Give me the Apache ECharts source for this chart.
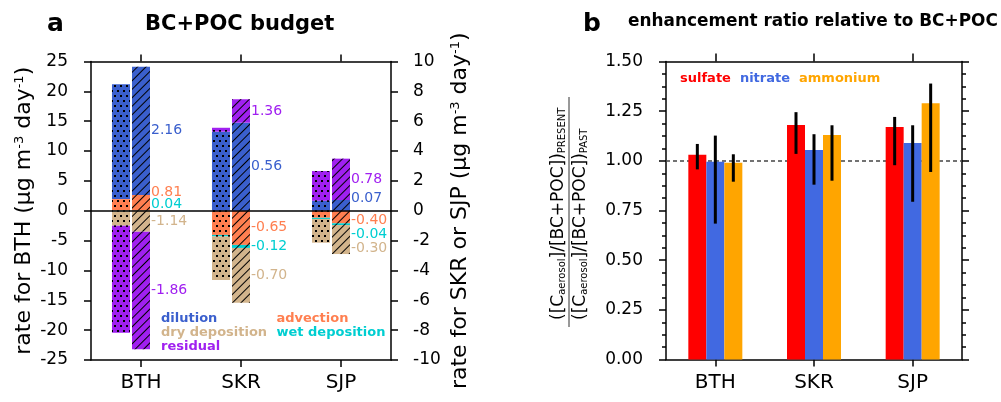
<!DOCTYPE html>
<html><head><meta charset="utf-8">
<script src="https://cdn.jsdelivr.net/npm/echarts@6/dist/echarts.min.js"></script>
<style>html,body{margin:0;padding:0;background:#fff}#c{width:1001px;height:402px}</style>
</head><body><div id="c"></div>
<script>
// ---------- data ----------
const regions = ['BTH', 'SKR', 'SJP'];
// Panel a: BC+POC budget terms (µg m-3 day-1); BTH read on left axis, SKR & SJP on right axis
const componentNames = ['advection', 'dilution', 'wet deposition', 'dry deposition', 'residual'];
const pastAdvection = [1.95, -1.62, -0.47];
const pastDilution = [19.25, 5.30, 0.67];
const pastWetDeposition = [-0.10, -0.10, -0.08];
const pastDryDeposition = [-2.40, -2.92, -1.59];
const pastResidual = [-17.93, 0.26, 1.99];
const presentAdvection = [2.64, -2.29, -0.84];
const presentDilution = [21.49, 5.90, 0.72];
const presentWetDeposition = [-0.06, -0.20, -0.12];
const presentDryDeposition = [-3.45, -3.67, -1.94];
const presentResidual = [-19.69, 1.57, 2.77];
// printed change values next to the hatched bars
const changeAdvection = [0.81, -0.65, -0.40];
const changeDilution = [2.16, 0.56, 0.07];
const changeWetDeposition = [0.04, -0.12, -0.04];
const changeDryDeposition = [-1.14, -0.70, -0.30];
const changeResidual = [-1.86, 1.36, 0.78];
// axis ranges
const leftAxisRange = [-25, 25, 5];
const rightAxisRange = [-10, 10, 2];
const ratioAxisRange = [0, 1.5, 0.25];
// Panel b: enhancement ratios
const speciesNames = ['sulfate', 'nitrate', 'ammonium'];
const sulfateRatio = [1.03, 1.18, 1.17];
const nitrateRatio = [0.995, 1.055, 1.09];
const ammoniumRatio = [0.99, 1.13, 1.29];
const sulfateLow = [0.957, 1.035, 0.978];
const sulfateHigh = [1.085, 1.245, 1.221];
const nitrateLow = [0.684, 0.880, 0.794];
const nitrateHigh = [1.127, 1.134, 1.179];
const ammoniumLow = [0.895, 0.900, 0.944];
const ammoniumHigh = [1.033, 1.179, 1.389];
const referenceRatio = 1.0;

// ---------- style ----------
const FONT = 'DejaVu Sans';
const compColors = ['#FF7F50', '#3A5FCD', '#00CED1', '#D2B48C', '#A020F0'];
const specColors = ['#FF0000', '#4169E1', '#FFA500'];
const labelOffsets = [[-11, 0, 3], [0, 0, -7], [-7, 0, 10], [0, 0, 9], [0, 0, 0]];
const dotDecal = { symbol: 'rect', symbolSize: 1, dashArrayX: [[2, 4], [0, 3, 2, 1]], dashArrayY: [2, 2.5], color: '#000', rotation: 0 };
const hatchDecal = { symbol: 'rect', symbolSize: 1, dashArrayX: [1, 0], dashArrayY: [0.9, 4.1], rotation: -Math.PI / 4, color: '#000' };
const LINE = { color: '#000', width: 1.5 };

const pastArrays = [pastAdvection, pastDilution, pastWetDeposition, pastDryDeposition, pastResidual];
const presentArrays = [presentAdvection, presentDilution, presentWetDeposition, presentDryDeposition, presentResidual];
const changeArrays = [changeAdvection, changeDilution, changeWetDeposition, changeDryDeposition, changeResidual];

const series = [];
[0, 1].forEach(function (g) {
  const inGrid = function (i) { return g === 0 ? i === 0 : i > 0; };
  [['past', pastArrays, dotDecal], ['present', presentArrays, hatchDecal]].forEach(function (pp) {
    const period = pp[0], arrs = pp[1], decal = pp[2];
    componentNames.forEach(function (name, k) {
      const data = regions.map(function (r, i) {
        if (!inGrid(i)) return '-';
        if (period === 'present') return { value: arrs[k][i], label: { offset: [0, labelOffsets[k][i]] } };
        return arrs[k][i];
      });
      const s = {
        type: 'bar', name: name, xAxisIndex: g, yAxisIndex: g, stack: period + g,
        barWidth: 18, barGap: '11.2%', data: data,
        itemStyle: { color: compColors[k], decal: decal },
        emphasis: { disabled: true }, silent: true
      };
      if (period === 'present') {
        s.label = {
          show: true, position: 'right', distance: 1,
          formatter: function (p) { return changeArrays[k][p.dataIndex].toFixed(2); },
          color: compColors[k], fontFamily: FONT, fontSize: 14
        };
      }
      series.push(s);
    });
  });
  series.push({ type: 'bar', name: '_pad', xAxisIndex: g, yAxisIndex: g, stack: 'pad' + g, barWidth: 18, data: ['-', '-', '-'] });
});
// zero line for panel a
series[0].markLine = { silent: true, symbol: 'none', label: { show: false }, lineStyle: { color: '#000', width: 1.5, type: 'solid' }, data: [{ yAxis: 0 }] };

// Panel b bars
const ratioArrays = [sulfateRatio, nitrateRatio, ammoniumRatio];
const lowArrays = [sulfateLow, nitrateLow, ammoniumLow];
const highArrays = [sulfateHigh, nitrateHigh, ammoniumHigh];
const BAR_B = 18;
speciesNames.forEach(function (name, k) {
  const s = {
    type: 'bar', name: name, xAxisIndex: 2, yAxisIndex: 2, barWidth: BAR_B, barGap: '0%',
    data: ratioArrays[k], itemStyle: { color: specColors[k] }, emphasis: { disabled: true }, silent: true, z: 2
  };
  if (k === 0) {
    s.markLine = { silent: true, z: 1, symbol: 'none', label: { show: false }, lineStyle: { color: '#444', width: 1.5, type: [4, 3] }, data: [{ yAxis: referenceRatio }] };
  }
  series.push(s);
});
const errData = [];
speciesNames.forEach(function (name, k) {
  regions.forEach(function (r, i) { errData.push([i, lowArrays[k][i], highArrays[k][i], k]); });
});
series.push({
  type: 'custom', xAxisIndex: 2, yAxisIndex: 2, z: 5, silent: true,
  renderItem: function (params, api) {
    const i = api.value(0), k = api.value(3);
    const p1 = api.coord([i, api.value(1)]), p2 = api.coord([i, api.value(2)]);
    const x = p1[0] + (k - 1) * BAR_B;
    return { type: 'line', shape: { x1: x, y1: p1[1], x2: x, y2: p2[1] }, style: { stroke: '#000', lineWidth: 3 } };
  },
  data: errData
});

function catAxis(grid, pos, showLabel, tickLen) {
  return {
    type: 'category', gridIndex: grid, position: pos, data: regions,
    axisLine: { show: true, onZero: false, lineStyle: LINE },
    axisTick: { show: true, alignWithLabel: true, length: tickLen, lineStyle: LINE },
    axisLabel: { show: showLabel, fontFamily: FONT, fontSize: 20, color: '#000', margin: 13 },
    splitLine: { show: false }
  };
}
const nameStyle = {
  fontFamily: FONT, fontSize: 22, color: '#000',
  rich: { sup: { fontFamily: FONT, fontSize: 13, color: '#000', verticalAlign: 'top' } }
};
function valAxis(grid, pos, range, opts) {
  const a = {
    type: 'value', gridIndex: grid, position: pos, min: range[0], max: range[1], interval: range[2],
    axisLine: { show: true, lineStyle: LINE },
    axisTick: { show: true, length: 7, lineStyle: LINE },
    axisLabel: { show: true, fontFamily: FONT, fontSize: 17, color: '#000', margin: 23 },
    splitLine: { show: false }, nameMoveOverlap: false
  };
  return Object.assign(a, opts || {});
}

function legendData(idx, names, colors) {
  return idx.map(function (k) { return { name: names[k], textStyle: { color: colors[k] } }; });
}
const legendText = { fontFamily: FONT, fontWeight: 'bold', fontSize: 13 };

const option = {
  animation: false,
  textStyle: { fontFamily: FONT },
  title: [
    { text: 'a', left: 47, top: 12, padding: 0, textStyle: { fontFamily: FONT, fontWeight: 'bold', fontSize: 25, color: '#000' } },
    { text: 'BC+POC budget', left: 145, top: 14, padding: 0, textStyle: { fontFamily: FONT, fontWeight: 'bold', fontSize: 21, color: '#000' } },
    { text: 'b', left: 583, top: 12, padding: 0, textStyle: { fontFamily: FONT, fontWeight: 'bold', fontSize: 25, color: '#000' } },
    { text: 'enhancement ratio relative to BC+POC', left: 628, top: 13, padding: 0, textStyle: { fontFamily: FONT, fontWeight: 'bold', fontSize: 16.9, color: '#000' } }
  ],
  legend: [
    {
      data: legendData([1, 3, 4], componentNames, compColors),
      orient: 'vertical', left: 156, top: 310.7, padding: 0, icon: 'none', itemWidth: 0, itemHeight: 15, itemGap: 0,
      selectedMode: false, textStyle: legendText
    },
    {
      data: legendData([0, 2], componentNames, compColors),
      orient: 'vertical', left: 271.5, top: 310.7, padding: 0, icon: 'none', itemWidth: 0, itemHeight: 15, itemGap: 0,
      selectedMode: false, textStyle: legendText
    },
    {
      data: legendData([0, 1, 2], speciesNames, specColors),
      orient: 'horizontal', left: 675, top: 70.7, padding: 0, icon: 'none', itemWidth: 0, itemHeight: 15, itemGap: 4,
      selectedMode: false, textStyle: legendText
    }
  ],
  grid: [
    { left: 91, top: 61.5, width: 300, height: 298.5, outerBoundsMode: 'none' },
    { left: 91, top: 61.5, width: 300, height: 298.5, outerBoundsMode: 'none' },
    { left: 666, top: 61.5, width: 296, height: 298, outerBoundsMode: 'none' }
  ],
  xAxis: [
    catAxis(0, 'bottom', true, 7),
    catAxis(1, 'top', false, 7),
    catAxis(2, 'bottom', true, 7),
    catAxis(2, 'top', false, 8)
  ],
  yAxis: [
    valAxis(0, 'left', leftAxisRange, {
      name: 'rate for BTH (µg m{sup|-3} day{sup|-1})', nameLocation: 'middle', nameRotate: 90, nameGap: 56, nameTextStyle: nameStyle
    }),
    valAxis(1, 'right', rightAxisRange, {
      axisLabel: { show: true, fontFamily: FONT, fontSize: 17, color: '#000', margin: 22 },
      name: 'rate for SKR or SJP (µg m{sup|-3} day{sup|-1})', nameLocation: 'middle', nameRotate: 90, nameGap: 58, nameTextStyle: nameStyle
    }),
    valAxis(2, 'left', ratioAxisRange, {
      axisLabel: { show: true, fontFamily: FONT, fontSize: 17, color: '#000', margin: 23, formatter: function (v) { return v.toFixed(2); } },
      minorTick: { show: true, splitNumber: 4, length: 4, lineStyle: LINE }
    }),
    valAxis(2, 'right', ratioAxisRange, {
      axisLabel: { show: false },
      minorTick: { show: true, splitNumber: 4, length: 4, lineStyle: LINE }
    })
  ],
  graphic: [{
    type: 'group', x: 569, y: 327, rotation: Math.PI / 2, silent: true,
    children: [
      { type: 'line', shape: { x1: 0, y1: 0, x2: 230, y2: 0 }, style: { stroke: '#333', lineWidth: 1 } },
      { type: 'text', x: 7, y: -2, style: { text: '([C{sub|aerosol}]/[BC+POC]){sub|PRESENT}', fontFamily: FONT, fontSize: 17, fill: '#000', align: 'left', verticalAlign: 'bottom',
        rich: { sub: { fontFamily: FONT, fontSize: 10, fill: '#000', verticalAlign: 'bottom' } } } },
      { type: 'text', x: 7, y: 3, style: { text: '([C{sub|aerosol}]/[BC+POC]){sub|PAST}', fontFamily: FONT, fontSize: 17, fill: '#000', align: 'left', verticalAlign: 'top',
        rich: { sub: { fontFamily: FONT, fontSize: 10, fill: '#000', verticalAlign: 'bottom' } } } }
    ]
  }],
  series: series
};
const chart = echarts.init(document.getElementById('c'), null, { renderer: 'canvas' });
chart.setOption(option);
</script>
</body></html>
